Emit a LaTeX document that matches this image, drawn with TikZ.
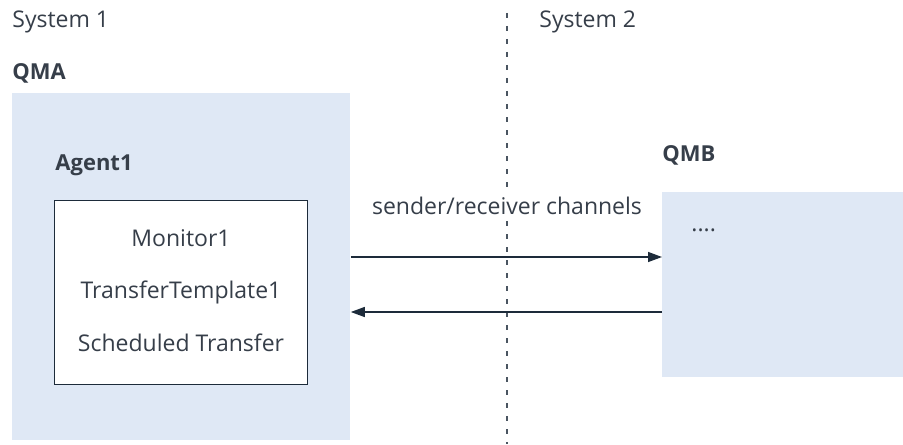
\documentclass[tikz,border=0pt]{standalone}
\usepackage{fontspec}
\setmainfont{Open Sans}
\usetikzlibrary{arrows.meta,positioning}
\definecolor{txtgray}{HTML}{363E49}
\definecolor{linenavy}{HTML}{1D2B3A}
\definecolor{qmblue}{HTML}{DFE8F5}
\tikzset{
  lbl/.style={text=txtgray,font=\fontsize{11.5}{13}\selectfont,inner sep=0pt},
  lblbold/.style={lbl,font=\fontsize{11}{13}\selectfont\bfseries},
  qmbox/.style={fill=qmblue,draw=none,inner sep=0pt,anchor=north west},
  agentbox/.style={fill=white,draw=linenavy,line width=0.7pt,inner sep=0pt,anchor=north west},
  chan/.style={draw=linenavy,line width=0.7pt,-{Triangle[length=7pt,width=5pt]}},
  divider/.style={draw=linenavy!80,line width=0.65pt,dash pattern=on 2.5pt off 4pt}
}
\begin{document}
\begin{tikzpicture}[x=0.5pt,y=-0.5pt]
    \useasboundingbox (0,0) rectangle (903,444);
    % systems
    \node[lbl,anchor=west] (sys1) at (12,22) {System 1};
    \node[lbl,anchor=west] (sys2) at (539,22) {System 2};
    \draw[divider] (507,13) -- (507,444);
    % queue managers
    \node[lblbold,anchor=west] (qma) at (12,73) {QMA};
    \node[qmbox,minimum width=169pt,minimum height=173.5pt] (qmabox) at (12,93) {};
    \node[lblbold,anchor=west] (qmb) at (662,155) {QMB};
    \node[qmbox,minimum width=120.5pt,minimum height=92.5pt] (qmbbox) at (662,192) {};
    \node[lbl,anchor=west] (dots) at (691,230) {....};
    % agent
    \node[lblbold,anchor=west] (agent) at (55,165) {Agent1};
    \node[agentbox,minimum width=126.5pt,minimum height=92pt] (agentbox) at (54,200) {};
    \node[lbl] (mon) at (181,238) {Monitor1};
    \node[lbl] (tmpl) at (181,292) {TransferTemplate1};
    \node[lbl] (sched) at (181,343) {Scheduled Transfer};
    % channels
    \node[lbl,fill=white,inner sep=3pt] (chanlbl) at (507,206) {sender/receiver channels};
    \coordinate (up) at (507,257);
    \coordinate (dn) at (507,312);
    \draw[chan] (qmabox.east |- up) -- (qmbbox.west |- up);
    \draw[chan] (qmbbox.west |- dn) -- (qmabox.east |- dn);
\end{tikzpicture}
\end{document}
